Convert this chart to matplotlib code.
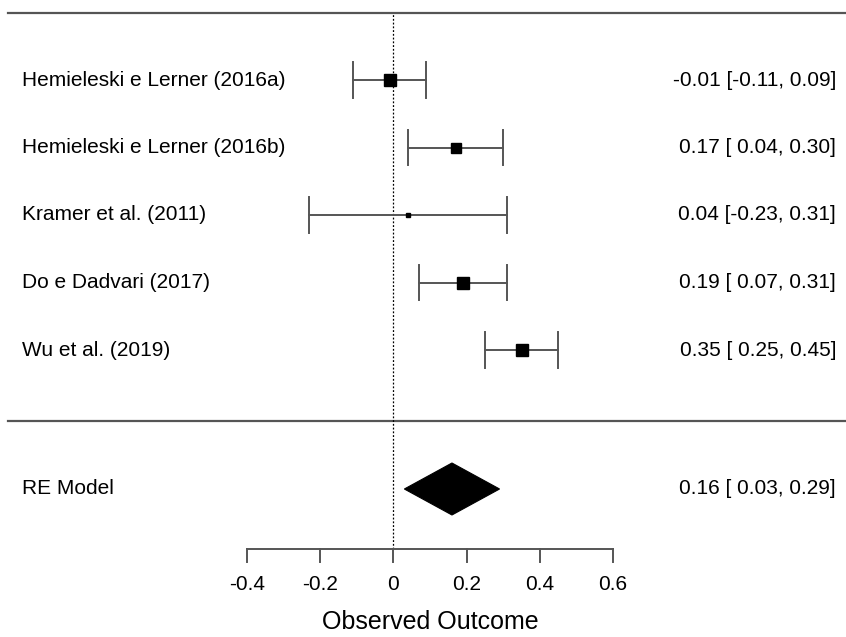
import matplotlib
matplotlib.use("Agg")
import matplotlib.pyplot as plt
import numpy as np
from matplotlib.patches import Polygon

plt.rcParams["font.family"] = ["Liberation Sans", "DejaVu Sans"]

# Study data
studies = [
    "Hemieleski e Lerner (2016a)",
    "Hemieleski e Lerner (2016b)",
    "Kramer et al. (2011)",
    "Do e Dadvari (2017)",
    "Wu et al. (2019)",
]
estimates = [-0.01, 0.17, 0.04, 0.19, 0.35]
ci_lower = [-0.11, 0.04, -0.23, 0.07, 0.25]
ci_upper = [0.09, 0.30, 0.31, 0.31, 0.45]
weights = [21.5, 19.5, 7.0, 21.0, 23.0]

re_label = "RE Model"
re_est, re_lower, re_upper = 0.16, 0.03, 0.29

xticks = [-0.4, -0.2, 0, 0.2, 0.4, 0.6]
xtick_labels = ["-0.4", "-0.2", "0", "0.2", "0.4", "0.6"]
xlabel = "Observed Outcome"

# figure in pixel-like layout: x in outcome units, y in row units
W, H = 846, 637
x0_px, x_scale = 393.4, 366.0   # pixel of 0 and pixels per unit
row0_px, row_scale = 417.5, 67.5


def px2x(px):
    return (px - x0_px) / x_scale


def px2row(py):
    return (row0_px - py) / row_scale


fig = plt.figure(figsize=(W / 100, H / 100), dpi=100)
ax = fig.add_axes([0, 0, 1, 1])
ax.set_xlim(px2x(0), px2x(W))
ax.set_ylim(px2row(H), px2row(0))
ax.axis("off")

k = len(studies)
rows = np.arange(k, 0, -1)
fs = 15
line_col = "#555555"

# top and separator lines
sep_row = px2row(421)
ax.plot([px2x(8), px2x(W)], [k + 1, k + 1], color=line_col, lw=1.6)
ax.plot([px2x(8), px2x(W)], [sep_row, sep_row], color=line_col, lw=1.6)

# reference line at zero
axis_row = px2row(549)
ax.plot([0, 0], [axis_row, k + 1], color="black", lw=0.9, ls=(0, (1.5, 1.5)))

# study rows
cap = 0.26
for r, name, est, lo, hi, w in zip(rows, studies, estimates, ci_lower, ci_upper, weights):
    ax.plot([lo, hi], [r, r], color=line_col, lw=1.4)
    ax.plot([lo, lo], [r - cap, r + cap], color=line_col, lw=1.4)
    ax.plot([hi, hi], [r - cap, r + cap], color=line_col, lw=1.4)
    ax.plot(est, r, marker="s", color="black", ms=w * 0.61 * 0.66, lw=0)
    ax.text(px2x(22), r, name, ha="left", va="center", fontsize=fs)
    ax.text(px2x(836), r, f"{est:.2f} [{lo:5.2f}, {hi:.2f}]".replace("[ -", "[-"),
            ha="right", va="center", fontsize=fs)

# summary diamond
re_row = px2row(489)
dh = 0.385
ax.add_patch(Polygon([[re_lower, re_row], [re_est, re_row + dh],
                      [re_upper, re_row], [re_est, re_row - dh]],
                     closed=True, facecolor="black", edgecolor="black", lw=0.8))
ax.text(px2x(22), re_row, re_label, ha="left", va="center", fontsize=fs)
ax.text(px2x(836), re_row, f"{re_est:.2f} [{re_lower:5.2f}, {re_upper:.2f}]",
        ha="right", va="center", fontsize=fs)

# x axis
tick_len = 0.19
ax.plot([xticks[0], xticks[-1]], [axis_row, axis_row], color=line_col, lw=1.4)
for t, lab in zip(xticks, xtick_labels):
    ax.plot([t, t], [axis_row, axis_row - tick_len], color=line_col, lw=1.4)
    ax.text(t, px2row(585), lab, ha="center", va="center", fontsize=fs)
ax.text(np.mean([xticks[0], xticks[-1]]), px2row(622), xlabel,
        ha="center", va="center", fontsize=18)

fig.savefig("out.png", dpi=100)
